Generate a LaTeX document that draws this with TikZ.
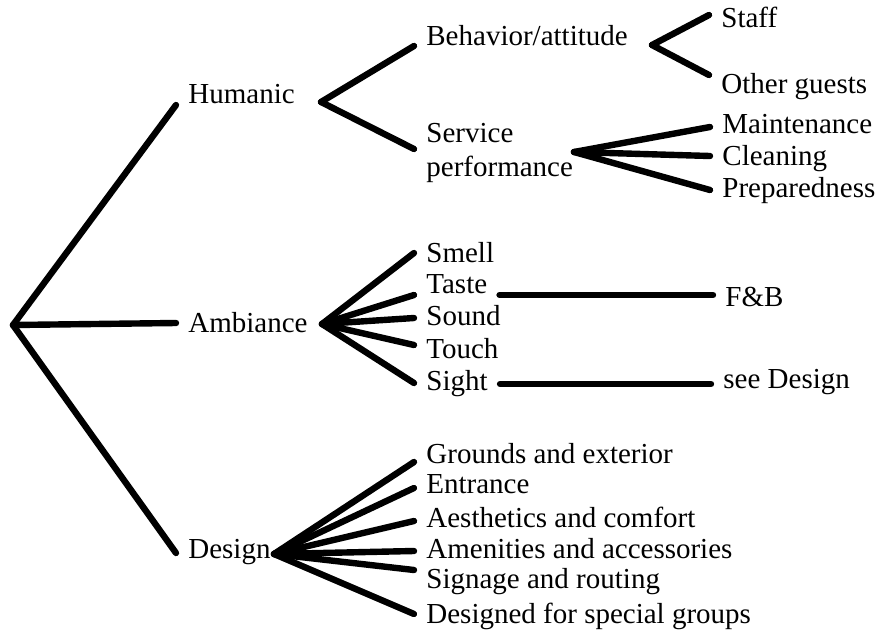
\documentclass[tikz,border=0pt]{standalone}
\usepackage{fontspec}
\setmainfont{Liberation Serif}
\begin{document}
\begin{tikzpicture}[x=0.5pt, y=-0.5pt,
    branch/.style={line width=3.2pt, line cap=round},
    lbl/.style={anchor=base west, inner xsep=6pt, inner ysep=0pt, text height=9pt, text depth=0pt, font=\fontsize{14.5}{17}\selectfont}]
    \useasboundingbox (0,0) rectangle (883,632);
    % fork points
    \coordinate (root) at (13,325);
    \coordinate (humfork) at (321,102);
    \coordinate (behfork) at (652,45);
    \coordinate (servfork) at (574,152);
    \coordinate (ambfork) at (322,324);
    \coordinate (desfork) at (274,554);
    % main branches
    \node[lbl] (hum) at (176,103) {Humanic};
    \node[lbl] (amb) at (176,332) {Ambiance};
    \node[lbl] (des) at (176,558) {Design};
    \draw[branch] (root) -- ([yshift=-5.5pt]hum.west);
    \draw[branch] (root) -- (amb.west);
    \draw[branch] (root) -- ([yshift=-2pt]des.west);
    % humanic
    \node[lbl] (beh) at (414,45) {Behavior/attitude};
    \node[anchor=west, inner xsep=6pt, inner ysep=0pt, align=left, font=\fontsize{14.5}{17}\selectfont] (serv) at (414,153) {Service\\performance};
    \draw[branch] (humfork) -- ([yshift=-5pt]beh.west);
    \draw[branch] (humfork) -- ([yshift=2pt]serv.west);
    \node[lbl] (staff) at (709,27) {Staff};
    \node[lbl] (guests) at (709,93) {Other guests};
    \draw[branch] (behfork) -- ([yshift=1.5pt]staff.west);
    \draw[branch] (behfork) -- ([yshift=4.5pt]guests.west);
    \node[lbl] (maint) at (710,133) {Maintenance};
    \node[lbl] (clean) at (710,165) {Cleaning};
    \node[lbl] (prep) at (710,197) {Preparedness};
    \draw[branch] (servfork) -- ([yshift=-1.5pt]maint.west);
    \draw[branch] (servfork) -- (clean.west);
    \draw[branch] (servfork) -- ([yshift=-1pt]prep.west);
    % ambiance
    \node[lbl] (smell) at (414,262) {Smell};
    \node[lbl] (taste) at (414,293) {Taste};
    \node[lbl] (sound) at (414,325) {Sound};
    \node[lbl] (touch) at (414,358) {Touch};
    \node[lbl] (sight) at (414,390) {Sight};
    \draw[branch] (ambfork) -- (smell.west);
    \draw[branch] (ambfork) -- ([yshift=-5.5pt]taste.west);
    \draw[branch] (ambfork) -- ([yshift=-1pt]sound.west);
    \draw[branch] (ambfork) -- ([yshift=2pt]touch.west);
    \draw[branch] (ambfork) -- ([yshift=-1pt]sight.west);
    \node[lbl] (fb) at (713,306) {F\&B};
    \node[lbl] (seedes) at (711,388) {see Design};
    \draw[branch] ([yshift=-5.5pt]taste.east) -- ([yshift=-5.5pt]taste.east -| fb.west);
    \draw[branch] ([yshift=-1.5pt]sight.east) -- ([yshift=-1.5pt]sight.east -| seedes.west);
    % design
    \node[lbl] (grounds) at (414,463) {Grounds and exterior};
    \node[lbl] (entr) at (414,493) {Entrance};
    \node[lbl] (aesth) at (414,527) {Aesthetics and comfort};
    \node[lbl] (amen) at (414,558) {Amenities and accessories};
    \node[lbl] (sign) at (414,588) {Signage and routing};
    \node[lbl] (groups) at (414,623) {Designed for special groups};
    \draw[branch] (desfork) -- ([yshift=-4pt]grounds.west);
    \draw[branch] (desfork) -- ([yshift=-2pt]entr.west);
    \draw[branch] (desfork) -- ([yshift=-1.5pt]aesth.west);
    \draw[branch] (desfork) -- ([yshift=-1pt]amen.west);
    \draw[branch] (desfork) -- ([yshift=4.5pt]sign.west);
    \draw[branch] (desfork) -- (groups.west);
\end{tikzpicture}
\end{document}
